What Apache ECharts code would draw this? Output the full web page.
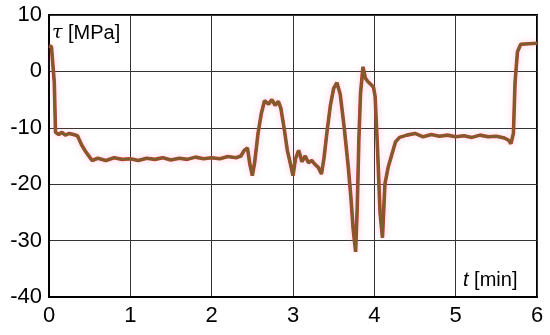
<!DOCTYPE html>
<html>
<head>
<meta charset="utf-8">
<script src="https://cdn.jsdelivr.net/npm/echarts@6/dist/echarts.min.js"></script>
<style>
  html, body { margin: 0; padding: 0; background: #fff; }
  #chart { width: 550px; height: 335px; }
</style>
</head>
<body>
<div id="chart"></div>
<script>
// time [min]
var timeMin = [
  0.00, 0.03, 0.05, 0.065, 0.08, 0.12, 0.16, 0.20, 0.25, 0.30, 0.35, 0.40, 0.45, 0.50, 0.53,
  0.60, 0.70, 0.80, 0.90, 1.00, 1.10, 1.20, 1.30, 1.40, 1.50, 1.60, 1.70, 1.80, 1.90, 2.00,
  2.10, 2.20, 2.30, 2.36, 2.40, 2.44, 2.47, 2.50, 2.53, 2.57, 2.61, 2.65, 2.70, 2.74, 2.78,
  2.82, 2.85, 2.89, 2.93, 2.97, 3.00, 3.03, 3.07, 3.11, 3.15, 3.19, 3.23, 3.27, 3.31, 3.35,
  3.38, 3.42, 3.46, 3.50, 3.54, 3.58, 3.63, 3.68, 3.71, 3.74, 3.77, 3.79, 3.81, 3.83, 3.86,
  3.89, 3.92, 3.95, 3.99, 4.01, 4.04, 4.07, 4.10, 4.13, 4.17, 4.21, 4.26, 4.31, 4.40, 4.50,
  4.60, 4.70, 4.80, 4.90, 5.00, 5.10, 5.20, 5.30, 5.40, 5.50, 5.60, 5.65, 5.68, 5.71, 5.73,
  5.76, 5.80, 5.90, 6.00
];
// shear stress tau [MPa]
var shearMPa = [
  4.5, 4.4, 4.3, -2.0, -10.8, -11.2, -10.8, -11.3, -11.0, -11.2, -11.4, -13.0, -14.2, -15.2, -15.8,
  -15.4, -15.8, -15.3, -15.6, -15.5, -15.8, -15.4, -15.6, -15.3, -15.7, -15.4, -15.6, -15.2, -15.5, -15.3,
  -15.5, -15.1, -15.3, -15.0, -14.0, -13.6, -16.5, -18.5, -16.0, -11.0, -7.5, -5.2, -5.8, -5.0, -6.0,
  -5.3, -6.5, -10.0, -14.0, -16.5, -18.5, -15.5, -14.0, -16.0, -15.0, -16.2, -15.8, -16.5, -17.0, -18.2,
  -15.5, -10.5, -6.0, -3.0, -2.0, -4.0, -10.0, -17.0, -22.0, -28.0, -32.0, -24.0, -12.0, -4.0, 0.8,
  -1.2, -1.8, -2.2, -2.8, -4.5, -14.0, -25.0, -29.5, -20.0, -17.0, -15.0, -12.5, -11.7, -11.3, -11.0,
  -11.6, -11.2, -11.5, -11.3, -11.6, -11.4, -11.7, -11.3, -11.6, -11.5, -11.8, -12.2, -12.8, -11.0, -2.0,
  3.5, 4.8, 4.9, 5.0
];
var xTicks = [0, 1, 2, 3, 4, 5, 6];
var yTicks = [-40, -30, -20, -10, 0, 10];

var seriesData = timeMin.map(function (t, i) { return [t, shearMPa[i]]; });

var myChart = echarts.init(document.getElementById('chart'));
var tickFont = { fontFamily: 'Liberation Sans', fontSize: 22, color: '#000' };

var option = {
  animation: false,
  backgroundColor: '#fff',
  grid: {
    left: 49, right: 13, top: 15, bottom: 38,
    show: true, borderColor: '#000', borderWidth: 2
  },
  xAxis: {
    type: 'value',
    min: xTicks[0], max: xTicks[xTicks.length - 1], interval: 1,
    axisLine: { show: true, onZero: false, lineStyle: { color: '#000', width: 2 } },
    axisTick: { show: false },
    axisLabel: Object.assign({ margin: 8 }, tickFont),
    splitLine: { show: true, lineStyle: { color: '#333', width: 1 } }
  },
  yAxis: {
    type: 'value',
    min: yTicks[0], max: yTicks[yTicks.length - 1], interval: 10,
    axisLine: { show: true, onZero: false, lineStyle: { color: '#000', width: 2 } },
    axisTick: { show: false },
    axisLabel: Object.assign({ margin: 7 }, tickFont),
    splitLine: { show: true, lineStyle: { color: '#333', width: 1 } }
  },
  graphic: [
    {
      type: 'text', left: 52, top: 23,
      style: {
        text: '{i|τ} [MPa]',
        rich: {
          i: { fontFamily: 'DejaVu Serif', fontStyle: 'italic', fontSize: 19, fill: '#000' }
        },
        fontFamily: 'Liberation Sans', fontSize: 20, fill: '#000'
      }
    },
    {
      type: 'text', left: 463, top: 270,
      style: {
        text: '{i|t} [min]',
        rich: {
          i: { fontFamily: 'Liberation Sans', fontStyle: 'italic', fontSize: 20, fill: '#000' }
        },
        fontFamily: 'Liberation Sans', fontSize: 20, fill: '#000'
      }
    }
  ],
  series: [
    {
      type: 'line',
      data: seriesData,
      showSymbol: false,
      lineStyle: {
        color: '#b8432e', width: 3.6,
        shadowColor: 'rgba(255,110,170,0.35)', shadowBlur: 7
      },
      z: 2
    },
    {
      type: 'line',
      data: seriesData,
      showSymbol: false,
      lineStyle: { color: '#7e5c2c', width: 2.4 },
      z: 3
    }
  ]
};
myChart.setOption(option);
</script>
</body>
</html>
